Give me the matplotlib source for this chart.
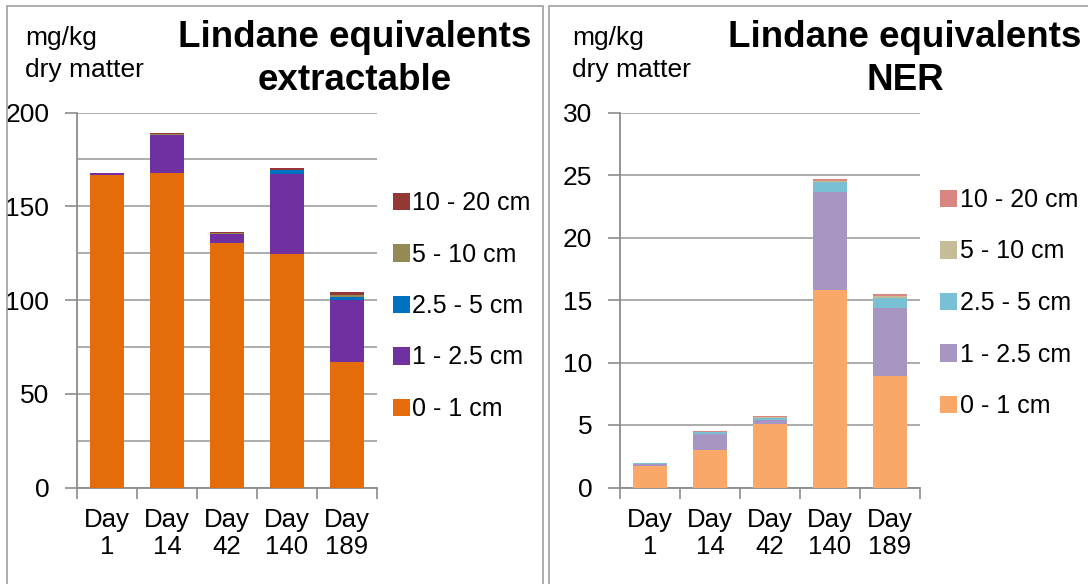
import matplotlib.pyplot as plt
from matplotlib.patches import Rectangle
import numpy as np

days = ["Day\n1", "Day\n14", "Day\n42", "Day\n140", "Day\n189"]
layers = ["0 - 1 cm", "1 - 2.5 cm", "2.5 - 5 cm", "5 - 10 cm", "10 - 20 cm"]

# extractable, mg/kg dry matter
ext_0_1 = [166.5, 168, 130.5, 124.5, 67]
ext_1_25 = [1, 20, 4.5, 42.5, 33]
ext_25_5 = [0.2, 0.1, 0.3, 2.2, 1.5]
ext_5_10 = [0.1, 0.7, 0.2, 0.2, 1.3]
ext_10_20 = [0.1, 0.2, 0.6, 1.0, 1.5]

# non-extractable residues, mg/kg dry matter
ner_0_1 = [1.7, 3.0, 5.05, 15.8, 8.95]
ner_1_25 = [0.2, 1.3, 0.35, 7.85, 5.45]
ner_25_5 = [0.05, 0.15, 0.2, 0.8, 0.8]
ner_5_10 = [0.02, 0.02, 0.05, 0.05, 0.1]
ner_10_20 = [0.02, 0.02, 0.1, 0.15, 0.2]

ext_colors = ["#E46C0A", "#7030A0", "#0070C0", "#948A54", "#953735"]
ner_colors = ["#F9A86A", "#A896C2", "#79C0D4", "#C4BD97", "#D98683"]

plain = ["Liberation Sans", "DejaVu Sans"]
grid_c = "#A6A6A6"

fig = plt.figure(figsize=(10.88, 5.84), dpi=100)

# panel frames
fig.add_artist(Rectangle((7 / 1088, -0.01), 536 / 1088, 1 - 6 / 584 + 0.01,
                         transform=fig.transFigure, fill=False, ec="#A0A0A0", lw=1.2))
fig.add_artist(Rectangle((549 / 1088, -0.01), 545 / 1088, 1 - 6 / 584 + 0.01,
                         transform=fig.transFigure, fill=False, ec="#A0A0A0", lw=1.2))


def stacked(ax, series, colors, ymax, major, minor):
    x = np.arange(len(days))
    bottom = np.zeros(len(days))
    handles = []
    for vals, c, lab in zip(series, colors, layers):
        b = ax.bar(x, vals, 0.57, bottom=bottom, color=c, label=lab, lw=0, zorder=3)
        bottom += np.array(vals)
        handles.append(b)
    ax.set_xlim(-0.5, len(days) - 0.5)
    ax.set_ylim(0, ymax)
    ax.set_yticks(np.arange(0, ymax + 0.01, major))
    ax.set_yticks(np.arange(0, ymax + 0.01, minor), minor=True)
    ax.set_yticklabels([f"{v:g}" for v in np.arange(0, ymax + 0.01, major)],
                       family=plain, fontsize=19)
    ax.tick_params(axis="y", which="major", length=9, width=1.2, color="#8C8C8C", pad=11)
    ax.tick_params(axis="y", which="minor", length=0)
    ax.grid(axis="y", which="both", color=grid_c, lw=1.3, zorder=0)
    ax.set_xticks(x)
    ax.set_xticklabels(days, family=plain, fontsize=18.5, linespacing=1.12)
    ax.set_xticks(np.arange(-0.5, len(days)), minor=True)
    ax.tick_params(axis="x", which="major", length=0, pad=15)
    ax.tick_params(axis="x", which="minor", length=8, width=1.2, color="#8C8C8C")
    for s in ["top", "right"]:
        ax.spines[s].set_visible(False)
    for s in ["left", "bottom"]:
        ax.spines[s].set_color("#8C8C8C")
        ax.spines[s].set_linewidth(1.3)
    return handles


axL = fig.add_axes([77 / 1088, 1 - 487.5 / 584, 300 / 1088, 375 / 584])
hL = stacked(axL, [ext_0_1, ext_1_25, ext_25_5, ext_5_10, ext_10_20], ext_colors, 200, 50, 25)
axR = fig.add_axes([620 / 1088, 1 - 487.5 / 584, 300 / 1088, 375 / 584])
hR = stacked(axR, [ner_0_1, ner_1_25, ner_25_5, ner_5_10, ner_10_20], ner_colors, 30, 5, 5)

for ax, h, x0, yc in [(axL, hL, 380 / 1088, 306), (axR, hR, 927 / 1088, 303)]:
    leg = fig.legend(h[::-1], layers[::-1], loc="center left", bbox_to_anchor=(x0, 1 - yc / 584),
                     frameon=False, prop={"family": plain, "size": 18}, handlelength=0.7,
                     handleheight=0.7, handletextpad=0.1, labelspacing=1.1, borderpad=0)

fig.text(25 / 1088, 1 - 54 / 584, "mg/kg\ndry matter", family=plain, fontsize=19,
         va="center", ha="left", linespacing=1.45)
fig.text(572 / 1088, 1 - 54 / 584, "mg/kg\ndry matter", family=plain, fontsize=19,
         va="center", ha="left", linespacing=1.45)
fig.text(355 / 1088, 1 - 59 / 584, "Lindane equivalents\nextractable", family=plain,
         fontsize=26.5, fontweight="bold", ha="center", va="center", linespacing=1.3)
fig.text(905 / 1088, 1 - 59 / 584, "Lindane equivalents\nNER", family=plain,
         fontsize=26.5, fontweight="bold", ha="center", va="center", linespacing=1.3)

fig.savefig("out.png", dpi=100)
